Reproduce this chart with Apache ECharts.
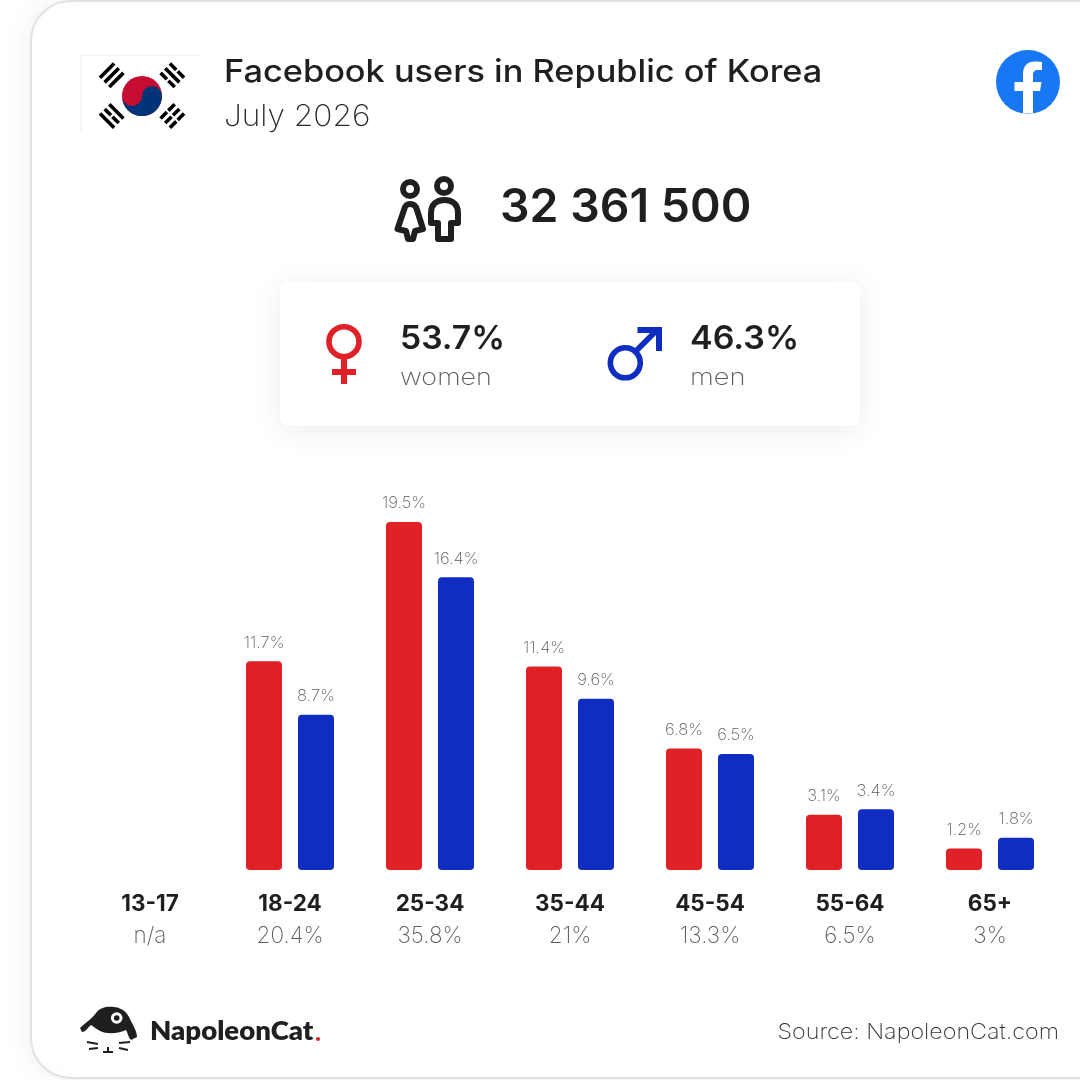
<!DOCTYPE html>
<html><head><meta charset="utf-8">
<style>html,body{margin:0;padding:0;background:#fff}#c{width:1080px;height:1080px}</style>
<script src="https://cdn.jsdelivr.net/npm/echarts@6/dist/echarts.min.js"></script>
</head><body><div id="c"></div>
<script>
const categories = ['13-17','18-24','25-34','35-44','45-54','55-64','65+'];
const totals = ['n/a','20.4%','35.8%','21%','13.3%','6.5%','3%'];
const women = [null,11.7,19.5,11.4,6.8,3.1,1.2];
const men = [null,8.7,16.4,9.6,6.5,3.4,1.8];
const title = 'Facebook users in Republic of Korea';
const subtitle = 'July 2026';
const totalUsers = '32 361 500';
const womenShare = '53.7%';
const menShare = '46.3%';
const RED='#df2027', BLUE='#0f2dc1', INK='#1f1f1f', GREY='#5c5c5c';
const FONT='Inter, "Noto Sans", sans-serif';
let pid=0;
function pth(d,style,z){const n='p'+(pid++);echarts.graphic.registerShape(n,echarts.graphic.extendPath(d,{}));return {type:n,z:z||10,style};}
function txt(x,y,text,size,weight,fill,align,sx){return {type:'text',x,y:y+2,scaleX:sx||1,z:10,style:{text,fontFamily:FONT,fontSize:size,fontWeight:weight,fill,textAlign:align||'left',textVerticalAlign:'middle'}};}
function trigram(cx,cy,rot,pat){
  const kids=[];
  pat.forEach((b,i)=>{const oy=(i-1)*6.6;
    if(b){kids.push({type:'rect',shape:{x:-10,y:oy-1.8,width:9,height:3.6},style:{fill:'#000'}});kids.push({type:'rect',shape:{x:1,y:oy-1.8,width:9,height:3.6},style:{fill:'#000'}});}
    else kids.push({type:'rect',shape:{x:-10,y:oy-1.8,width:20,height:3.6},style:{fill:'#000'}});
  });
  return {type:'group',x:cx,y:cy,rotation:rot,z:10,children:kids};
}
const g=[
 {type:'rect',z:0,shape:{x:31,y:1,width:1100,height:1077,r:40},style:{fill:'#fff',stroke:'#e2e2e2',lineWidth:2,shadowBlur:30,shadowColor:'rgba(0,0,0,0.07)'}},
 {type:'polyline',z:5,shape:{points:[[81,133],[81,55],[200,55]]},style:{stroke:'#f3f3f3',lineWidth:1.5,fill:null}},
 {type:'circle',z:10,shape:{cx:142,cy:96,r:20},style:{fill:'#c60c30'}},
 pth('M122 96 A20 20 0 0 0 162 96 A10 10 0 0 0 142 96 A10 10 0 0 1 122 96 Z',{fill:'#003478'},11),
 trigram(111.7,75.3,Math.PI/4,[false,false,false]),
 trigram(172.3,75.3,-Math.PI/4,[true,false,true]),
 trigram(111.7,116,-Math.PI/4,[false,true,false]),
 trigram(172.3,116,Math.PI/4,[true,true,true]),
 txt(224,71,title,31,500,INK,'left',1.107),
 txt(224,115,subtitle,30,200,'#2a2a2a','left',1.055),
 {type:'circle',z:10,shape:{cx:1028,cy:82,r:32},style:{fill:'#1877f2'}},
 pth('M1023 113.6 L1023 91 L1014.5 91 L1014.5 82 L1023 82 L1023 74 C1023 66 1027.5 61.5 1035 61.5 C1038 61.5 1042 62 1042 62 L1042 70 L1038 70 C1034.5 70 1033 72 1033 75 L1033 82 L1041.5 82 L1040 91 L1033 91 L1033 113.6 Z',{fill:'#fff'},11),
 {type:'circle',z:10,shape:{cx:410,cy:189,r:7},style:{fill:'none',stroke:INK,lineWidth:6}},
 {type:'circle',z:10,shape:{cx:444,cy:186,r:7},style:{fill:'none',stroke:INK,lineWidth:6}},
 pth('M410 204 C406 204 405 206 404 210 L397.5 229 L406 231 L408 239 L413 239 L415 231 L423 229 L417 210 C416 206 414 204 410 204 Z',{fill:'none',stroke:INK,lineWidth:6,lineJoin:'round'}),
 pth('M444.5 200 C436 200 431 205 431 213 L431 223 L438 223 L438 239 L451 239 L451 223 L458 223 L458 213 C458 205 453 200 444.5 200 Z',{fill:'none',stroke:INK,lineWidth:6,lineJoin:'round'}),
 txt(500,206,totalUsers,46,600,INK,'left',1.01),
 {type:'rect',z:2,shape:{x:280,y:282,width:580,height:144,r:8},style:{fill:'#fff',shadowBlur:30,shadowColor:'rgba(0,0,0,0.08)',shadowOffsetY:4}},
 {type:'circle',z:10,shape:{cx:344,cy:341.7,r:15},style:{fill:'none',stroke:RED,lineWidth:5.6}},
 {type:'rect',z:10,shape:{x:341,y:358,width:6,height:26},style:{fill:RED}},
 {type:'rect',z:10,shape:{x:332,y:369,width:24,height:6},style:{fill:RED}},
 {type:'circle',z:10,shape:{cx:625.3,cy:362.8,r:15},style:{fill:'none',stroke:BLUE,lineWidth:5.6}},
 pth('M636 351 L656 331',{fill:'none',stroke:BLUE,lineWidth:5.6}),
 pth('M637.5 327 L662 327 L662 351 L656 351 L656 333 L637.5 333 Z',{fill:BLUE}),
 txt(400,337,womenShare,33,600,INK,'left',1.02),
 txt(400,376,'women',23,200,GREY,'left',1.17),
 txt(690,337,menShare,33,600,INK,'left',1.03),
 txt(690,376,'men',23,200,GREY,'left',1.19),
 pth('M80 1028 C86 1022 92 1019 96 1013 C100 1007 108 1006 114 1007 C124 1008 128 1014 131 1021 C134 1027 137 1032 137 1037 L131 1040 C128 1037 128 1033 126 1030 C120 1033 108 1035 100 1031 C96 1029 93 1026 91 1025 C88 1027 86 1032 82 1032 Z',{fill:INK}),
 {type:'circle',z:11,shape:{cx:116.7,cy:1018,r:4.3},style:{fill:'none',stroke:'#fff',lineWidth:3}},
 pth('M87 1042 L98 1044 M89 1049 L98 1048 M119 1043 L130 1042 M119 1048 L128 1050 M103 1052 L113 1052 M108 1047 L108 1052',{fill:'none',stroke:INK,lineWidth:2}),
 {type:'text',z:10,x:150,y:1031,scaleX:1.02,style:{text:'NapoleonCat',fontFamily:'Lato, '+FONT,fontWeight:800,fontSize:27,fill:INK,textVerticalAlign:'middle'}},
 {type:'circle',z:10,shape:{cx:318,cy:1039,r:2},style:{fill:'#e0202a'}},
 txt(1059,1031,'Source: NapoleonCat.com',21.5,200,'#333','right',1.085)
];
function labelOpt(){return {show:true,position:'top',distance:10,fontFamily:FONT,fontWeight:200,fontSize:16.5,color:GREY,formatter:p=>p.value==null?'':p.value+'%'};}
const chart=echarts.init(document.getElementById('c'),null,{renderer:'canvas'});
chart.setOption({
 animation:false,
 backgroundColor:'#fff',
 graphic:g,
 grid:{left:80,width:980,top:513,height:357,containLabel:false},
 xAxis:{type:'category',data:categories,axisLine:{show:false},axisTick:{show:false},
  axisLabel:{margin:18,interval:0,formatter:(v,i)=>'{a|'+v+'}\n{b|'+totals[i]+'}',
   rich:{a:{fontFamily:FONT,fontWeight:700,fontSize:22.5,color:INK,lineHeight:32,height:32},b:{fontFamily:FONT,fontWeight:200,fontSize:22.5,color:GREY,lineHeight:32,height:32}}}},
 yAxis:{type:'value',min:0,max:20,interval:5,show:false,splitLine:{show:false}},
 series:[
  {name:'women',type:'bar',data:women,barWidth:36,barGap:'44.44%',itemStyle:{color:RED,borderRadius:4},label:labelOpt(),z:5},
  {name:'men',type:'bar',data:men,barWidth:36,itemStyle:{color:BLUE,borderRadius:4},label:labelOpt(),z:5}
 ]
});
</script></body></html>
